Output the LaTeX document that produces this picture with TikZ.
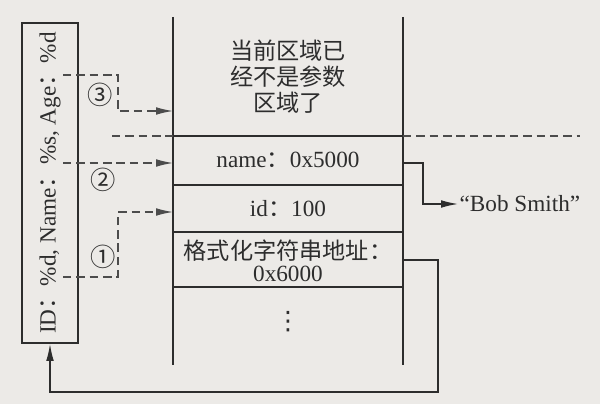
\documentclass[tikz,border=0pt]{standalone}
\usepackage{fontspec}
\setmainfont{Liberation Serif}
\newfontfamily\cjk{Noto Sans CJK SC}
\newfontfamily\symf{DejaVu Sans}
\usetikzlibrary{arrows.meta,positioning}

\definecolor{paper}{RGB}{236,234,231}
\definecolor{ink}{RGB}{45,45,45}

\tikzset{
  wall/.style={line width=1.1pt,draw=ink},
  dashline/.style={line width=0.9pt,draw=ink!85,dash pattern=on 6pt off 3.5pt},
  tip/.style={-{Latex[length=4.2mm,width=1.9mm]}},
  cell/.style={text=ink,inner sep=1pt},
  circnum/.style={cell,font=\cjk\fontsize{18}{20}\selectfont},
}

\begin{document}
\begin{tikzpicture}[font=\fontsize{16.5}{19}\selectfont]
    \useasboundingbox[fill=paper] (0,0) rectangle (15,10.1);
	\coordinate (TL) at (4.325,9.675);
	\coordinate (TR) at (10.075,9.675);
	\coordinate (BL) at (4.325,0.975);
	\coordinate (BR) at (10.075,0.975);
    % 栈的两条竖线
    \draw[wall] (TL) -- (BL);
    \draw[wall] (TR) -- (BR);

    % 栈中的横线
    \foreach \y in {6.7,5.475,4.3,2.925}
        \draw[wall] (4.325,\y) -- (10.075,\y);

    % 参数区域的分界（虚线）
    \draw[dashline] (2.8,6.7) -- (4.325,6.7);
    \draw[dashline] (10.075,6.7) -- (14.5,6.7);

    % 栈中的内容
    \node[cell,align=center,font=\cjk\fontsize{16.5}{18.5}\selectfont] (done) at (7.2,8.175)
        {当前区域已\\经不是参数\\区域了};
    \node[cell] (name) at (7.2,6.09) {name{\cjk ：}0x5000};
    \node[cell] (id) at (7.2,4.89) {id{\cjk ：}100};
    \node[cell,align=center] (fmt) at (7.2,3.58)
        {{\cjk 格式化字符串地址：}\\[-3pt]0x6000};
    \node[cell,font=\symf\fontsize{18}{20}\selectfont] (dots) at (7.2,2.05) {⋮};

    % 格式化字符串
    \node[draw=ink,line width=1.4pt,text=ink,rotate=90,minimum width=8cm,minimum height=1.4cm]
        (fmtstr) at (1.25,5.525) {ID{\cjk ：}\%d, Name{\cjk ：}\%s, Age{\cjk ：}\%d};

    % name 指向的字符串
    \node[cell,right=0pt] (bob) at (11.45,5.0) {``Bob Smith''};
    \coordinate (nameR) at (10.075,6.025);
    \draw[wall,line width=0.9pt,tip] (nameR) -- ++(0.5,0) |- (bob.west);

    % 格式化字符串地址指回格式化字符串
    \coordinate (fmtR) at (10.075,3.6);
    \draw[wall,line width=0.9pt,tip] (fmtR) -- (10.95,3.6) -- (10.95,0.3) -| (fmtstr.west);

    % 三个%分别对应的参数（虚线箭头）
    \coordinate (s3) at (1.575,8.225);
    \coordinate (s2) at (1.575,6.025);
    \coordinate (s1) at (1.575,3.175);
    \coordinate (in3) at (4.325,7.325);
    \coordinate (in2) at (4.325,6.025);
    \coordinate (in1) at (4.325,4.8);
    \draw[dashline,tip] (s3) -- ++(1.375,0) |- (in3);
    \draw[dashline,tip] (s2) -- (in2);
    \draw[dashline,tip] (s1) -- ++(1.375,0) |- (in1);

    \node[circnum] (n3) at (2.5,7.725) {③};
    \node[circnum] (n2) at (2.575,5.6) {②};
    \node[circnum] (n1) at (2.575,3.675) {①};
\end{tikzpicture}
\end{document}
